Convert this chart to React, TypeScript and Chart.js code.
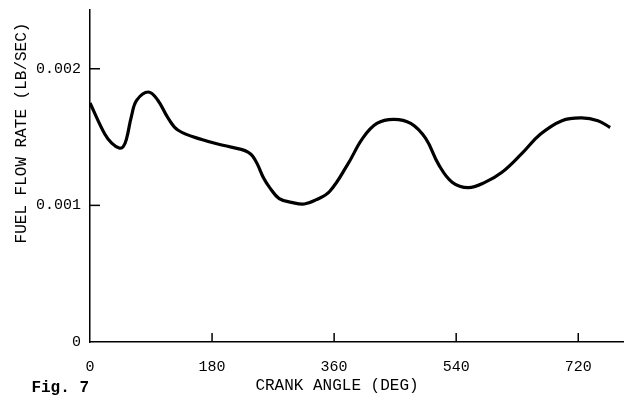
import React, { useEffect, useRef } from "react";
import { Chart, registerables } from "chart.js";

Chart.register(...registerables);

// Data
const crankAngle: number[] = [
  0, 22, 32, 43, 49, 54, 61, 69, 86, 100, 115, 130, 166, 196, 223, 233, 240,
  247, 256, 265, 279, 299, 316, 333, 353, 380, 402, 423, 448, 473, 495, 514,
  534, 558, 583, 607, 637, 664, 696, 725, 749, 767,
];
const fuelFlow: number[] = [
  0.00175, 0.00152, 0.001456, 0.00142, 0.00143, 0.00149, 0.00165, 0.00177,
  0.00183, 0.00177, 0.00164, 0.00155, 0.00148, 0.00144, 0.00141, 0.00139,
  0.00136, 0.0013, 0.0012, 0.00113, 0.00105, 0.00102, 0.00101, 0.00104,
  0.0011, 0.0013, 0.00149, 0.0016, 0.00163, 0.0016, 0.00149, 0.0013, 0.00117,
  0.00113, 0.00117, 0.00124, 0.00138, 0.00152, 0.00162, 0.00164, 0.00162,
  0.00157,
];
const xTicks: number[] = [0, 180, 360, 540, 720];
const yTicks: number[] = [0, 0.001, 0.002];
const yTickLabels: string[] = ["0", "0.001", "0.002"];
const xTitle = "CRANK ANGLE (DEG)";
const yTitle = "FUEL FLOW RATE (LB/SEC)";
const figLabel = "Fig. 7";

const FONT = "'Liberation Mono', 'Courier New', monospace";

const decorPlugin = {
  id: "decor",
  afterDraw(chart: any) {
    const ctx = chart.ctx;
    const xs = chart.scales.x;
    const ys = chart.scales.y;
    const area = chart.chartArea;
    ctx.save();
    ctx.strokeStyle = "#000";
    ctx.lineWidth = 1.5;
    // inward tick marks
    xTicks.forEach((v) => {
      if (v === 0) return;
      const px = xs.getPixelForValue(v);
      ctx.beginPath();
      ctx.moveTo(px, area.bottom);
      ctx.lineTo(px, area.bottom - 9);
      ctx.stroke();
    });
    yTicks.forEach((v) => {
      if (v === 0) return;
      const py = ys.getPixelForValue(v);
      ctx.beginPath();
      ctx.moveTo(area.left, py);
      ctx.lineTo(area.left + 10, py);
      ctx.stroke();
    });
    ctx.fillStyle = "#000";
    ctx.textBaseline = "middle";
    // y title
    ctx.font = `16px ${FONT}`;
    ctx.save();
    ctx.translate(22, 133);
    ctx.rotate(-Math.PI / 2);
    ctx.textAlign = "center";
    ctx.fillText(yTitle, 0, 0);
    ctx.restore();
    // x title
    ctx.textAlign = "center";
    ctx.fillText(xTitle, 337, 386);
    // figure label
    ctx.font = `bold 16px ${FONT}`;
    ctx.textAlign = "right";
    ctx.fillText(figLabel, 89, 388);
    ctx.restore();
  },
};

export default function App() {
  const ref = useRef<HTMLCanvasElement | null>(null);
  useEffect(() => {
    if (!ref.current) return;
    const chart = new Chart(ref.current, {
      type: "line",
      data: {
        datasets: [
          {
            data: crankAngle.map((x, i) => ({ x, y: fuelFlow[i] })),
            borderColor: "#000",
            borderWidth: 3.2,
            pointRadius: 0,
            fill: false,
            tension: 0.4,
          },
        ],
      },
      options: {
        animation: false,
        responsive: false,
        maintainAspectRatio: false,
        layout: { padding: { top: 10, right: 7, left: 0, bottom: 0 } },
        plugins: {
          legend: { display: false },
          tooltip: { enabled: false },
        },
        scales: {
          x: {
            type: "linear",
            min: 0,
            max: 786,
            afterFit: (s: any) => {
              s.height = 58;
              s.paddingLeft = 0;
              s.paddingRight = 0;
            },
            afterBuildTicks: (s: any) => {
              s.ticks = xTicks.map((v) => ({ value: v }));
            },
            grid: { drawOnChartArea: false, drawTicks: false },
            border: { display: true, color: "#000", width: 1.5 },
            ticks: {
              color: "#000",
              font: { family: FONT, size: 15 },
              padding: 16,
              maxRotation: 0,
              callback: (v: any) => String(v),
            },
          },
          y: {
            type: "linear",
            min: 0,
            max: 0.00243,
            afterFit: (s: any) => {
              s.width = 90;
              s.paddingTop = 0;
              s.paddingBottom = 0;
            },
            afterBuildTicks: (s: any) => {
              s.ticks = yTicks.map((v) => ({ value: v }));
            },
            grid: { drawOnChartArea: false, drawTicks: false },
            border: { display: true, color: "#000", width: 1.5 },
            ticks: {
              color: "#000",
              font: { family: FONT, size: 15 },
              padding: 9,
              callback: (v: any) => {
                const i = yTicks.indexOf(Number(v));
                return i >= 0 ? yTickLabels[i] : "";
              },
            },
          },
        },
      },
      plugins: [decorPlugin],
    } as any);
    return () => chart.destroy();
  }, []);
  return (
    <div
      style={{
        position: "fixed",
        left: 0,
        top: 0,
        width: 630,
        height: 400,
        background: "#fff",
      }}
    >
      <canvas ref={ref} width={630} height={400} />
    </div>
  );
}
